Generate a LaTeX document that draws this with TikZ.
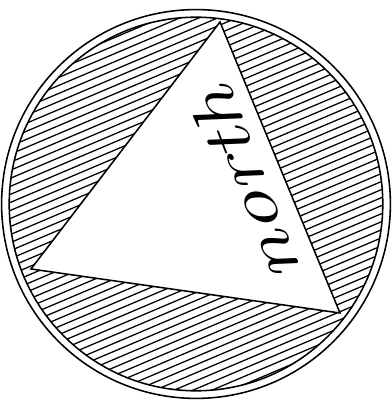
\documentclass[tikz,border=0pt]{standalone}
\usepackage{tikz}
\begin{document}
\begin{tikzpicture}[line width=1.1pt]
    \useasboundingbox (-4.9,-4.975) rectangle (4.9,5.1);
    \coordinate (O) at (0,0);
    \coordinate (A) at (0.6,4.55);
    \coordinate (B) at (-4.125,-1.625);
    \coordinate (C) at (3.6,-2.725);
    \begin{scope}
        \clip (O) circle (4.67);
        \foreach \k in {-27,...,27}
            \draw[line width=0.9pt, rotate=23] (-5,{\k*0.185}) -- (5,{\k*0.185});
    \end{scope}
    \filldraw[fill=white] (A)--(B)--(C)--cycle;
    \draw (O) circle (4.86);
    \draw (O) circle (4.67);
    \node[rotate=111, font=\fontsize{47}{56}\selectfont\itshape] (lbl) at (1.22,0.45) {\scalebox{1.35}[1]{north}};
\end{tikzpicture}
\end{document}
